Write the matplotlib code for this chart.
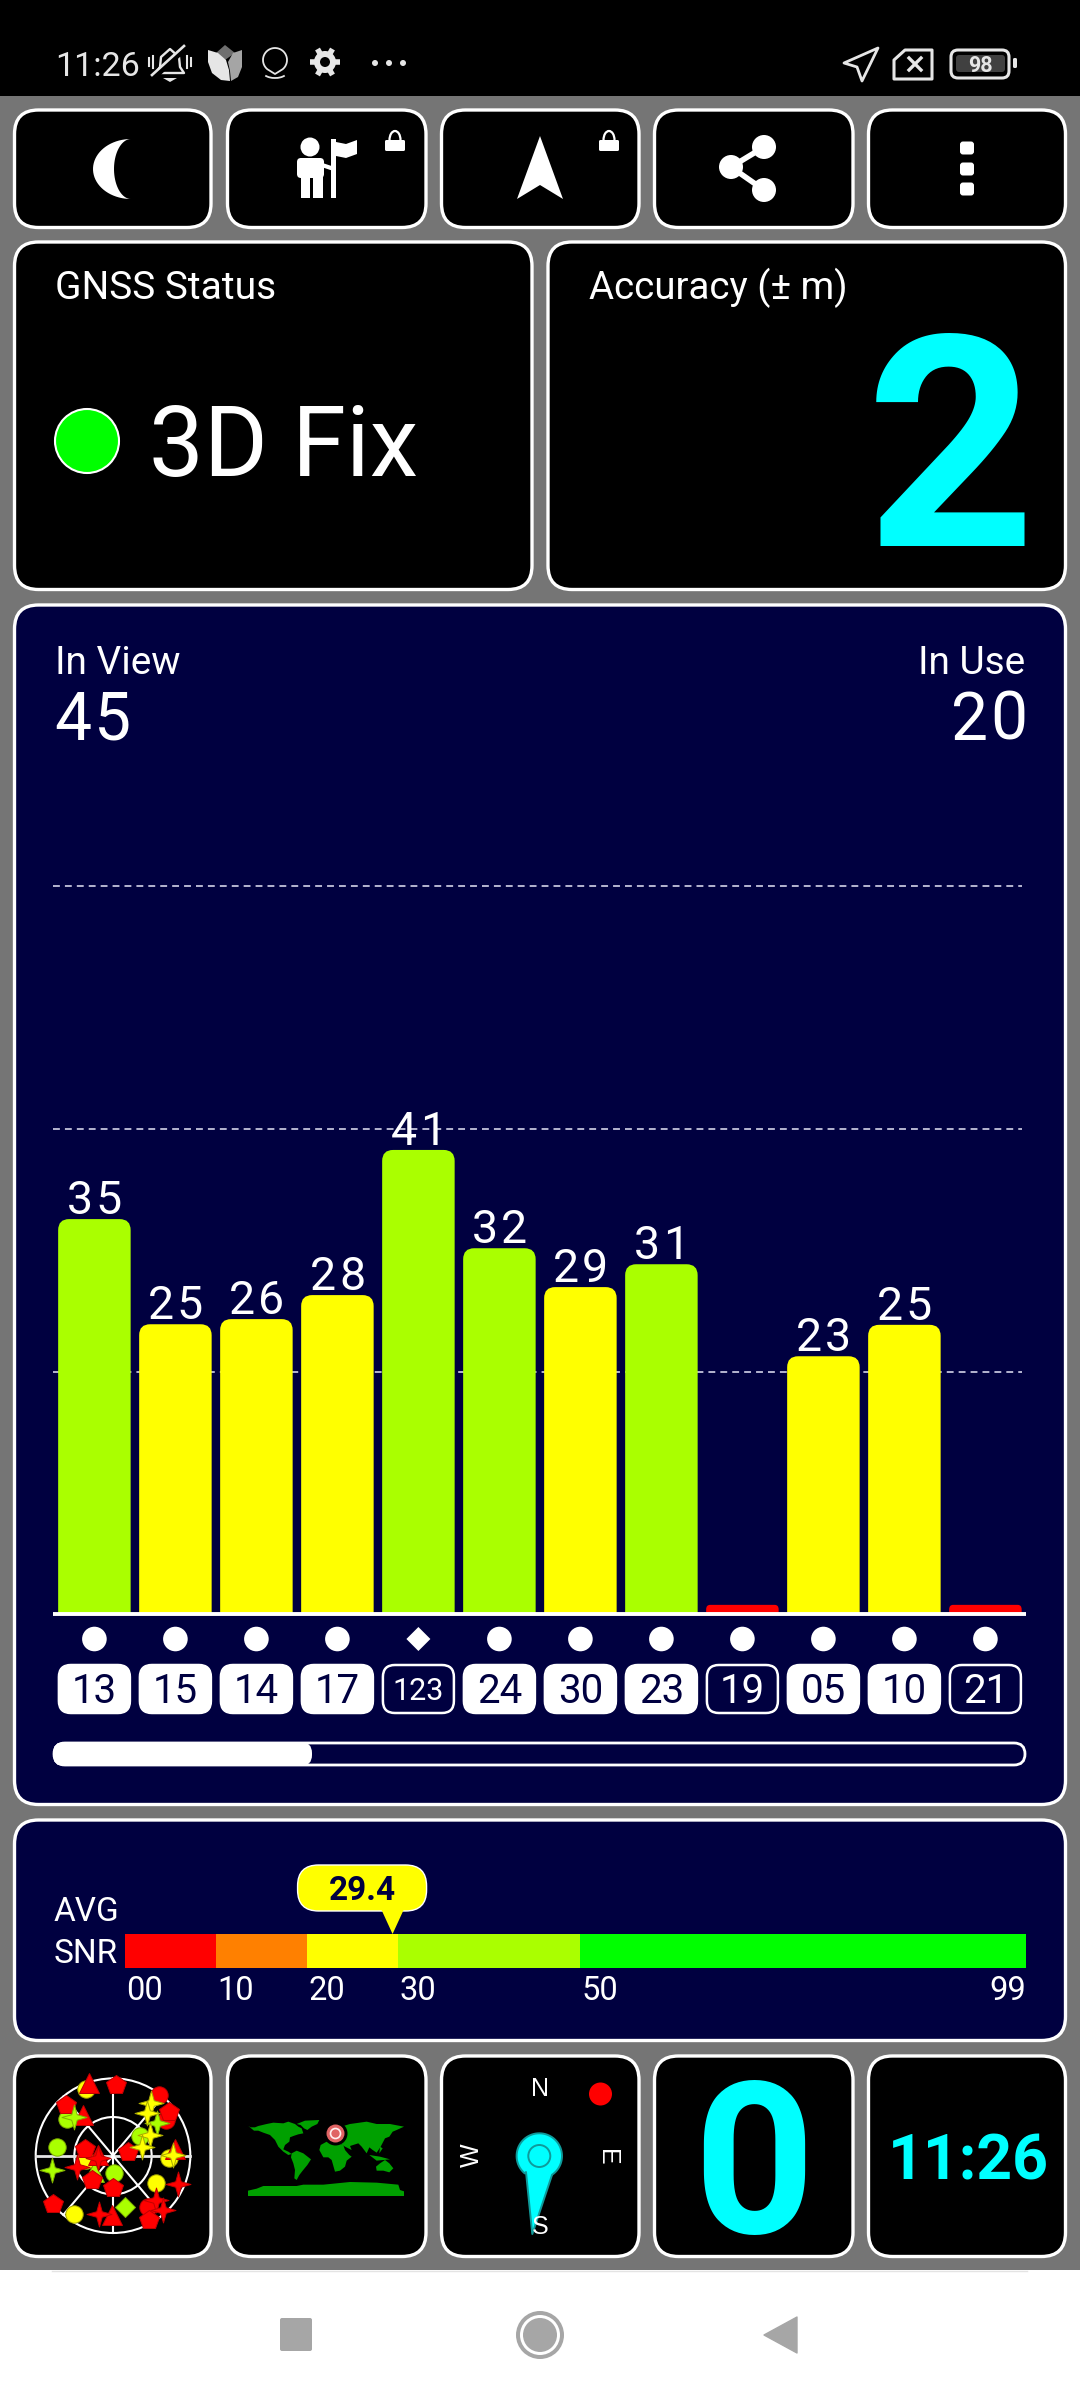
import numpy as np
import matplotlib
matplotlib.use("Agg")
import matplotlib.pyplot as plt
from matplotlib.patches import FancyBboxPatch, Circle, Polygon, Rectangle, Arc, PathPatch
from matplotlib.path import Path

plt.rcParams['font.family'] = ['Roboto', 'DejaVu Sans']

# ---- data ----
sat_ids = ["13", "15", "14", "17", "123", "24", "30", "23", "19", "05", "10", "21"]
snr_values = [34.55, 25.35, 25.8, 27.9, 40.6, 32.0, 28.6, 30.6, 0.8, 22.55, 25.3, 0.8]
snr_labels = ["35", "25", "26", "28", "41", "32", "29", "31", "", "23", "25", ""]
sat_in_use = [True, True, True, True, False, True, True, True, False, True, True, False]
sat_marker = ["o", "o", "o", "o", "D", "o", "o", "o", "o", "o", "o", "o"]
grid_levels = [21.2, 42.4, 63.7]

snr_edges = [0, 10, 20, 30, 50, 99]
snr_edge_labels = ["00", "10", "20", "30", "50", "99"]
snr_colors = ["#ff0000", "#ff8000", "#ffff00", "#aaff00", "#00ff00"]
avg_snr = 29.4

in_view = "45"
in_use = "20"
accuracy = "2"
speed = "0"
clock = "11:26"

# sky plot: east / north offsets as fraction of horizon radius
circ_y_e, circ_y_n = [-.35, .73, -.35, .56, -.50], [.86, -.03, -.06, -.35, -.75]
circ_r_e, circ_r_n = [.59, .45, .68], [.78, -.66, .46]
circ_g_e, circ_g_n = [-.59, -.73, .01, .35], [.48, .11, -.22, .25]
tri_r_e, tri_r_n = [-.31, -.39, -.20, -.01, .80], [.94, .53, .01, -.77, .09]
tri_g_e, tri_g_n = [-.25], [-.21]
pent_r_e = [.04, -.61, .72, -.36, .20, -.27, 0, -.77, .46]
pent_r_n = [.92, .65, .56, .09, .05, -.31, -.42, -.63, -.83]
star_y_e, star_y_n = [.49, .44, .48, .38, .78], [.68, .55, .27, .11, .01]
star_g_e, star_g_n = [-.51, .57, -.79], [.50, .42, -.19]
star_r_e = [-.46, -.20, .84, -.18, .55, .65]
star_r_n = [-.14, -.03, -.37, -.75, -.57, -.70]
dia_g_e, dia_g_n = [.16], [-.66]

# ---- colours ----
GRAY = "#757575"
NAVY = "#000040"
CYAN = "#00ffff"
ICON = "#e6e6e6"
W, H = 1080, 2400

fig = plt.figure(figsize=(W / 100, H / 100), dpi=100, facecolor="white")


def axes_px(x0, y0, x1, y1):
    return fig.add_axes([x0 / W, 1 - y1 / H, (x1 - x0) / W, (y1 - y0) / H])


ax = fig.add_axes([0, 0, 1, 1])
ax.set_xlim(0, W)
ax.set_ylim(H, 0)
ax.axis("off")

ax.add_patch(Rectangle((0, 0), W, 96, fc="black", lw=0))
ax.add_patch(Rectangle((0, 96), W, 2270 - 96, fc=GRAY, lw=0))
ax.plot([52, 1027], [2271, 2271], color="#e4e4e4", lw=1)


def panel(x0, y0, x1, y1, fc="black", r=24):
    ax.add_patch(FancyBboxPatch((x0, y0), x1 - x0, y1 - y0,
                                boxstyle=f"round,pad=0,rounding_size={r}",
                                fc=fc, ec="white", lw=2.4))


def txt(x, y, s, size, color="white", ha="left", weight="normal", **kw):
    return ax.text(x, y, s, fontsize=size, color=color, ha=ha, va="baseline",
                   fontweight=weight, **kw)


columns = [(14.5, 211), (227.5, 426), (441.5, 639), (654.5, 853), (868.5, 1065.5)]
for x0, x1 in columns:
    panel(x0, 110, x1, 227.5)
    panel(x0, 2056, x1, 2256.5)
panel(14.5, 242, 532, 589.5)
panel(548, 242, 1065.5, 589.5)
panel(14.5, 605, 1065.5, 1804.5, fc=NAVY)
panel(14.5, 1820, 1065.5, 2040.5, fc=NAVY)

# ---- status bar ----
txt(55, 76, clock, 24.5, color=ICON)
# muted bell
ax.add_patch(Polygon([(156, 73), (160, 67), (161, 57), (170, 49), (179, 57), (180, 67), (184, 73)],
                     closed=True, fc="none", ec=ICON, lw=1.7, joinstyle="round"))
ax.add_patch(Polygon([(163, 78), (177, 78), (170, 82)], fc=ICON, lw=0))
ax.plot([154, 186], [77, 47], color="black", lw=4.5, zorder=3)
ax.plot([152, 184], [75, 46], color=ICON, lw=1.9, zorder=4)
for x, a, b in [(149, 58, 66), (153, 56, 68), (187, 56, 68), (191, 58, 66)]:
    ax.plot([x, x], [a, b], color=ICON, lw=1.5)
# tulip
ax.add_patch(Polygon([(225, 45), (235, 53), (225, 60), (216, 53)], fc="#6f6f6f", lw=0))
ax.add_patch(Polygon([(242, 50), (233, 53), (228, 62), (230, 71), (231, 81), (238, 77), (242, 67)], fc="#a5a5a5", lw=0))
ax.add_patch(Polygon([(208, 50), (218, 53), (226, 60), (229, 70), (230, 81), (221, 80), (212, 73), (208, 62)], fc=ICON, lw=0))
# pin
th = np.radians(np.linspace(-50, 230, 40))
pin = np.c_[275 + 12 * np.cos(th), 60 - 12 * np.sin(th)]
ax.add_patch(Polygon(np.vstack([pin, [(275, 74)]]), closed=True, fc="none", ec=ICON, lw=1.3, joinstyle="round"))
ax.add_patch(Arc((275, 72), 24, 12, theta1=20, theta2=160, ec=ICON, lw=1.3))
# gear
for a in np.radians(np.arange(0, 360, 60)):
    ax.plot([325, 325 + 15 * np.cos(a)], [62, 62 + 15 * np.sin(a)], color=ICON, lw=4, solid_capstyle="butt", zorder=1)
ax.add_patch(Circle((325, 62), 11, fc=ICON, lw=0, zorder=1.5))
ax.add_patch(Circle((325, 62), 5, fc="black", lw=0, zorder=1.6))
for x in (375, 389, 403):
    ax.add_patch(Circle((x, 63), 3, fc=ICON, lw=0))
# location arrow, SIM, battery
ax.add_patch(Polygon([(844, 63), (878, 48), (862, 81), (857, 67)], fc="none", ec=ICON, lw=2, joinstyle="round"))
ax.add_patch(Polygon([(894, 60), (905, 50), (932, 50), (932, 79), (894, 79)], fc="none", ec=ICON, lw=2.2, joinstyle="round"))
ax.plot([909, 921], [58, 70], color=ICON, lw=2.4)
ax.plot([921, 909], [58, 70], color=ICON, lw=2.4)
ax.add_patch(FancyBboxPatch((951, 50), 58, 28, boxstyle="round,pad=0,rounding_size=7", fc="none", ec=ICON, lw=2.2))
ax.add_patch(FancyBboxPatch((956, 55), 49, 17, boxstyle="round,pad=0,rounding_size=3", fc="#404040", lw=0))
ax.text(980.5, 71.5, "98", fontsize=15.5, color=ICON, ha="center", va="baseline", fontweight="bold")
ax.add_patch(FancyBboxPatch((1013, 58), 4, 10, boxstyle="round,pad=0,rounding_size=1.5", fc=ICON, lw=0))

# ---- top buttons ----
t = np.radians(np.linspace(-90, 90, 40))
outer = np.c_[131 - 38 * np.cos(t), 169 + 30 * np.sin(t)]
inner = np.c_[131 - 17 * np.cos(t[::-1]), 169 + 30 * np.sin(t[::-1])]
ax.add_patch(Polygon(np.vstack([outer, inner]), fc="white", lw=0))
# person with flag
ax.add_patch(Circle((310, 147), 9.5, fc="white", lw=0))
ax.add_patch(FancyBboxPatch((297, 158), 27, 20, boxstyle="round,pad=0,rounding_size=4", fc="white", lw=0))
ax.add_patch(Rectangle((301, 176), 9, 22, fc="white", lw=0))
ax.add_patch(Rectangle((313, 176), 10, 22, fc="white", lw=0))
ax.add_patch(Rectangle((331, 139), 5, 59, fc="white", lw=0))
ax.add_patch(Polygon([(336, 142), (346, 144), (357, 140), (357, 154), (346, 158), (336, 156)], fc="white", lw=0))
ax.plot([322, 331], [165, 168], color="white", lw=3)
# locks
for x in (385, 599):
    ax.add_patch(FancyBboxPatch((x, 140), 20, 11, boxstyle="round,pad=0,rounding_size=1.5", fc="white", lw=0))
    ax.add_patch(Arc((x + 10, 140), 11, 18, theta1=180, theta2=360, ec="white", lw=1.6))
# navigation arrow
ax.add_patch(Polygon([(540, 136), (517, 199), (540, 185), (563, 199)], fc="white", lw=0))
# share
share = [(764, 147), (731, 167), (764, 190)]
ax.plot([p[0] for p in share], [p[1] for p in share], color="white", lw=4, zorder=1)
for p in share:
    ax.add_patch(Circle(p, 12, fc="white", lw=0))
# menu
for y in (148, 169, 189):
    ax.add_patch(FancyBboxPatch((960, y - 6.5), 14, 13, boxstyle="round,pad=0,rounding_size=3", fc="white", lw=0))

# ---- status and accuracy ----
txt(55, 299, "GNSS Status", 28)
txt(589, 299, "Accuracy (± m)", 27.7)
ax.add_patch(Circle((87, 441), 32, fc="#00ff00", ec="white", lw=1.5))
txt(149, 476, "3D Fix", 70.3)
txt(1035, 546, accuracy, 213, color=CYAN, ha="right", weight="bold")

# ---- satellites panel ----
txt(55, 674, "In View", 28)
txt(1025, 674, "In Use", 28, ha="right")
txt(54, 740, in_view[0], 47.5)
txt(93, 740, in_view[1], 47.5)
txt(988, 740, in_use[0], 47.5, ha="right")
txt(1027, 740, in_use[1], 47.5, ha="right")

BAR_PX = 11.43
BASE = 1614
TOP = 880
ax_bar = axes_px(53, TOP, 1026, BASE)
ax_bar.patch.set_alpha(0)
ax_bar.axis("off")
ax_bar.set_xlim((53 - 94.4) / 81, (1026 - 94.4) / 81)
ax_bar.set_ylim(0, (BASE - TOP) / BAR_PX)

for lv in grid_levels:
    ax_bar.plot([ax_bar.get_xlim()[0], 11.45], [lv, lv], color="#c4c4dc", lw=1.3, ls=(0, (3.8, 2.8)), zorder=1)


def bar_color(v):
    return snr_colors[np.searchsorted(snr_edges, v, side="right") - 1]


positions = np.arange(len(snr_values))
bars = ax_bar.bar(positions, snr_values, width=0.895, color=[bar_color(v) for v in snr_values], zorder=2)
for b in bars:
    # round the top corners of each bar
    x, w_, h_ = b.get_x(), b.get_width(), b.get_height()
    rx = 11 / 81 if h_ > 2 else 4 / 81
    ry = min(11 / BAR_PX, h_ / 2)
    verts = [(x, 0), (x, h_ - ry), (x, h_), (x + rx, h_), (x + w_ - rx, h_), (x + w_, h_), (x + w_, h_ - ry), (x + w_, 0), (x, 0)]
    codes = [Path.MOVETO, Path.LINETO, Path.CURVE3, Path.CURVE3, Path.LINETO, Path.CURVE3, Path.CURVE3, Path.LINETO, Path.CLOSEPOLY]
    ax_bar.add_patch(PathPatch(Path(verts, codes), fc=b.get_facecolor(), lw=0, zorder=2))
    b.set_visible(False)
ax_bar.plot(ax_bar.get_xlim(), [0, 0], color="white", lw=2.8, zorder=3, clip_on=False, solid_capstyle="butt")

for i, (v, lab) in enumerate(zip(snr_values, snr_labels)):
    if lab:
        # the two digits sit slightly apart, as in the app
        ax_bar.annotate(lab[0], (i, v), xytext=(-1.5, 5), textcoords="offset pixels",
                        ha="right", va="baseline", fontsize=33.5, color="white", zorder=4)
        ax_bar.annotate(lab[1], (i, v), xytext=(1.5, 5), textcoords="offset pixels",
                        ha="left", va="baseline", fontsize=33.5, color="white", zorder=4)

# markers and id chips below the bars
px = ax_bar.transData.transform(np.c_[positions, np.zeros(len(positions))])
chip_x = ax.transData.inverted().transform(px)[:, 0]
for cx, sid, used, mk in zip(chip_x, sat_ids, sat_in_use, sat_marker):
    if mk == "o":
        ax.add_patch(Circle((cx, 1639), 12.3, fc="white", lw=0))
    else:
        ax.add_patch(Polygon([(cx, 1627), (cx + 12, 1639), (cx, 1651), (cx - 12, 1639)], fc="white", lw=0))
    ax.add_patch(FancyBboxPatch((cx - 35.5, 1665), 71, 48, boxstyle="round,pad=0,rounding_size=12",
                                fc="white" if used else NAVY, ec="white", lw=1.8))
    if len(sid) == 3:
        ax.text(cx, 1700, sid, fontsize=22, color="white", ha="center", va="baseline")
    else:
        ax.text(cx, 1703, sid, fontsize=29, color=NAVY if used else "white", ha="center", va="baseline")

ax.add_patch(FancyBboxPatch((54, 1743), 971, 22, boxstyle="round,pad=0,rounding_size=11", fc=NAVY, ec="white", lw=2))
ax.add_patch(FancyBboxPatch((53, 1742), 259, 24, boxstyle="round,pad=0,rounding_size=11", fc="white", lw=0))

# ---- average SNR ----
txt(54, 1921, "AVG", 24)
txt(54, 1963, "SNR", 24)
ax_snr = axes_px(125, 1934, 1026, 1968)
ax_snr.axis("off")
ax_snr.set_xlim(0, 99)
ax_snr.set_ylim(0, 1)
ax_snr.barh([0.5], np.diff(snr_edges), left=snr_edges[:-1], height=1, color=snr_colors, linewidth=0)
for e, lab in zip(snr_edges, snr_edge_labels):
    ha = "right" if e == snr_edges[-1] else "left"
    off = 0 if e == snr_edges[-1] else 1
    ax_snr.annotate(lab, (e, 0), xytext=(off, -32), textcoords="offset pixels", ha=ha, va="baseline",
                    fontsize=23.5, color="white")
tip = ax.transData.inverted().transform(ax_snr.transData.transform((avg_snr, 1)))
ax.add_patch(FancyBboxPatch((tip[0] - 95, 1865), 129, 46, boxstyle="round,pad=0,rounding_size=21", fc="#ffff00", ec="white", lw=1))
ax.add_patch(Polygon([(tip[0] - 11, 1910), (tip[0] + 11, 1910), tip], fc="#ffff00", lw=0))
ax.text(tip[0] - 30, 1900, f"{avg_snr}", fontsize=24, color=NAVY, ha="center", va="baseline", fontweight="bold")

# ---- sky plot ----
R = 77.3
ax_sky = axes_px(113 - 1.3 * R, 2155.7 - 1.3 * R, 113 + 1.3 * R, 2155.7 + 1.3 * R)
ax_sky.patch.set_alpha(0)
ax_sky.axis("off")
ax_sky.set_xlim(-1.3, 1.3)
ax_sky.set_ylim(-1.3, 1.3)
ax_sky.add_patch(Circle((0, 0), 1, fc="none", ec="white", lw=1.5))
ax_sky.add_patch(Circle((0, 0), .5, fc="none", ec="white", lw=1.5))
ax_sky.plot([-1, 1], [0, 0], color="#e4e4e4", lw=2)
ax_sky.plot([0, 0], [-1, 1], color="white", lw=1.5)
for a in (40, 140, 220, 320):
    ax_sky.plot([0, np.sin(np.radians(a))], [0, np.cos(np.radians(a))], color="white", lw=1.5)
RED, YEL, GRN = "#ff0000", "#ffff00", "#aaff00"
EDGE = {RED: "#c00000", YEL: "#a8a800", GRN: "#80b000"}
star4 = Path([(0, 1), (.22, .22), (1, 0), (.22, -.22), (0, -1), (-.22, -.22), (-1, 0), (-.22, .22), (0, 1)], closed=True)
groups = [
    (circ_y_e, circ_y_n, "o", YEL, 12.5), (circ_r_e, circ_r_n, "o", RED, 12.5), (circ_g_e, circ_g_n, "o", GRN, 12.5),
    (dia_g_e, dia_g_n, "D", GRN, 10), (tri_g_e, tri_g_n, "^", GRN, 14), (tri_r_e, tri_r_n, "^", RED, 15),
    (pent_r_e, pent_r_n, "p", RED, 15), (star_g_e, star_g_n, star4, GRN, 18), (star_r_e, star_r_n, star4, RED, 18),
    (star_y_e, star_y_n, star4, YEL, 18),
]
for e_, n_, m, c, s in groups:
    ax_sky.plot(e_, n_, ls="none", marker=m, ms=s, mfc=c, mec=EDGE[c], mew=0.7, clip_on=False)

# ---- world map (crop-pixel outline) ----
ax_map = axes_px(230, 2100, 420, 2200)
ax_map.patch.set_alpha(0)
ax_map.axis("off")
ax_map.set_xlim(0, 570)
ax_map.set_ylim(300, 0)
land = [
    [(55, 78), (62, 82), (75, 82), (85, 78), (110, 72), (130, 68), (160, 70), (175, 65), (195, 72), (205, 80), (215, 85),
     (220, 100), (205, 103), (190, 108), (180, 112), (178, 125), (165, 135), (160, 148), (175, 155), (185, 162),
     (175, 165), (160, 155), (145, 140), (135, 120), (120, 105), (100, 98), (85, 92), (72, 92)],
    [(200, 72), (225, 62), (268, 60), (262, 72), (245, 80), (232, 90), (222, 85), (212, 75)],
    [(185, 160), (200, 152), (220, 160), (243, 178), (232, 195), (218, 212), (208, 225), (200, 240), (193, 235),
     (195, 210), (190, 190), (183, 172)],
    [(268, 150), (272, 135), (290, 125), (315, 125), (340, 135), (345, 150), (358, 165), (365, 170), (350, 182),
     (345, 200), (330, 212), (315, 215), (305, 180), (295, 172), (280, 172)],
    [(288, 100), (340, 78), (360, 72), (410, 65), (440, 72), (480, 72), (522, 80), (500, 90), (488, 95), (478, 110),
     (465, 115), (452, 140), (440, 158), (428, 150), (418, 142), (410, 160), (395, 140), (385, 130), (360, 138),
     (365, 150), (345, 140), (330, 130), (300, 125), (285, 115)],
    [(438, 200), (450, 190), (465, 180), (478, 190), (490, 205), (478, 217), (460, 212), (440, 212)],
    [(54, 288), (54, 272), (80, 266), (100, 258), (200, 258), (220, 254), (280, 254), (360, 246), (440, 248),
     (505, 254), (510, 270), (522, 274), (522, 288)],
    [(418, 165), (450, 170), (480, 178), (440, 182)],
    [(450, 140), (458, 145), (448, 160)],
]
for poly in land:
    ax_map.add_patch(Polygon(poly, fc="#00a000", lw=0))
ax_mark = axes_px(230, 2100, 420, 2200)
ax_mark.patch.set_alpha(0)
ax_mark.axis("off")
ax_mark.set_xlim(230, 420)
ax_mark.set_ylim(2200, 2100)
ax_mark.add_patch(Circle((335.5, 2133.5), 12, fc="black", lw=0))
ax_mark.add_patch(Circle((335.5, 2133.5), 9, fc="#e06464", lw=0))
ax_mark.add_patch(Circle((335.5, 2133.5), 5, fc="#e06464", ec="#fff0f0", lw=1.2))

# ---- compass ----
ax.add_patch(Circle((600.5, 2094), 11.5, fc="#ff0000", lw=0))
t = np.radians(np.linspace(56, -230, 60))
head = np.c_[539.3 + 22.7 * np.cos(t), 2156 + 22.7 * np.sin(t)]
needle = np.vstack([head, [(526, 2172), (532.3, 2234), (552, 2175)]])
ax.add_patch(Polygon(needle, fc=CYAN, ec="#0f9a9a", lw=1.4, joinstyle="round"))
ax.add_patch(Circle((539.3, 2156), 11, fc="none", ec="#0f9a9a", lw=1.4))
ax.text(540, 2096, "N", fontsize=18, color="white", ha="center", va="baseline", family="Liberation Sans")
ax.text(540, 2234, "S", fontsize=18, color="white", ha="center", va="baseline", family="Liberation Sans")
ax.text(607, 2157, "E", fontsize=18, color="white", ha="center", va="center", rotation=-90, family="Liberation Sans")
ax.text(471.5, 2155.5, "W", fontsize=18, color="white", ha="center", va="center", rotation=90, family="Liberation Sans")

# ---- speed and clock ----
txt(754, 2233, speed, 152, color=CYAN, ha="center", weight="bold")
txt(968, 2179, clock, 45, color=CYAN, ha="center", weight="bold")

# ---- navigation bar ----
NB = "#a6a6a6"
ax.add_patch(FancyBboxPatch((280, 2318), 32, 33, boxstyle="round,pad=0,rounding_size=2", fc=NB, lw=0))
ax.add_patch(Circle((540, 2335), 24, fc=NB, lw=0))
ax.add_patch(Circle((540, 2335), 20, fc="white", lw=0))
ax.add_patch(Circle((540, 2335), 17, fc=NB, lw=0))
ax.add_patch(Polygon([(797, 2317), (797, 2353), (764, 2335)], fc=NB, ec=NB, lw=1, joinstyle="round"))

fig.savefig("out.png", dpi=100, facecolor="white")
